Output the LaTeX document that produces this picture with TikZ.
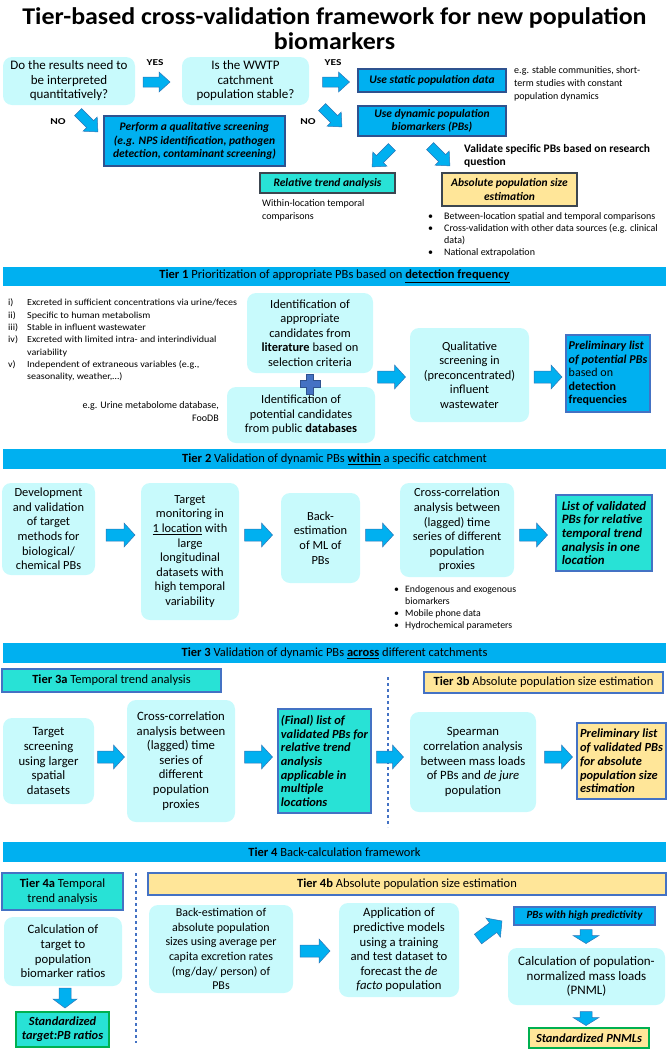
\documentclass[tikz,border=0pt]{standalone}
\usepackage{fontspec}
\setmainfont{Carlito}
\newfontfamily\stfont[FakeStretch=1.08]{Carlito}
\newfontfamily\lblfont[FakeStretch=1.27]{Carlito}
\newfontfamily\ttlfont[FakeStretch=1.08]{Carlito}
\usetikzlibrary{calc}
\definecolor{lcy}{RGB}{200,250,252}
\definecolor{pblue}{RGB}{0,176,240}
\definecolor{teal2}{RGB}{40,226,214}
\definecolor{yel}{RGB}{255,230,153}
\definecolor{bord}{RGB}{68,114,196}
\definecolor{dkb}{RGB}{47,82,143}
\definecolor{dkg}{RGB}{60,70,80}
\definecolor{grn}{RGB}{0,176,80}
\definecolor{arrd}{RGB}{46,117,182}
\newcommand\mybox[7]{%
  \pgfmathsetmacro\mbw{#5-#3}%
  \pgfmathsetmacro\mbh{#6-#4}%
  \pgfmathsetmacro\mbx{(#3+#5)/2}%
  \pgfmathsetmacro\mby{(#4+#6)/2}%
  \node[#2, minimum width=\mbw pt, minimum height=\mbh pt] (#1) at (\mbx,\mby) {#7};}
\tikzset{
 lbox/.style={rounded corners=9pt, fill=lcy, draw=none, align=center, inner sep=1pt, font=\fontsize{12.7}{14.6}\selectfont},
 lboxs/.style={lbox, font=\fontsize{12.4}{14.6}\selectfont},
 bbox/.style={fill=pblue, draw=dkb, line width=1.2pt, align=center, inner sep=1pt, font=\fontsize{11.5}{13.5}\selectfont\bfseries\itshape},
 tbox/.style={fill=teal2, draw=bord, line width=1.5pt, align=center, inner sep=1pt, font=\fontsize{12.4}{13.7}\selectfont\bfseries\itshape},
 ybox/.style={fill=yel, draw=bord, line width=1.5pt, align=center, inner sep=1pt, font=\fontsize{12.4}{13.7}\selectfont\bfseries\itshape},
 hdr/.style={font=\fontsize{12.5}{14.5}\selectfont},
 tbar/.style={fill=pblue, draw=none, align=center, inner sep=1pt, font=\fontsize{12.5}{14}\selectfont},
 note/.style={align=left, inner sep=0pt, font=\fontsize{10}{13}\selectfont},
 lbl/.style={inner sep=0pt, font=\lblfont\fontsize{9}{11}\selectfont\bfseries},
 arrst/.style={fill=pblue, draw=arrd, line width=0.5pt, line join=miter},
 dsh/.style={draw=bord, dashed, line width=1.3pt},
 pics/barr/.style n args={4}{code={\filldraw[arrst] ({-#1/2},-#2) -- ({#1/2-#4},-#2) -- ({#1/2-#4},-#3) -- ({#1/2},0) -- ({#1/2-#4},#3) -- ({#1/2-#4},#2) -- ({-#1/2},#2) -- cycle;}},
}
\begin{document}
\begin{tikzpicture}[x=1pt,y=-1pt]
\useasboundingbox (0,0) rectangle (669,1050);
% title
\node[font=\ttlfont\fontsize{24}{25}\selectfont\bfseries, align=center, inner sep=0pt] (title) at (334.5,29) {Tier-based cross-validation framework for new population\\biomarkers};
% ---- top decision part
\mybox{qa}{lbox,font=\fontsize{13}{14.5}\selectfont}{3}{57}{135}{105}{Do the results need to\\be interpreted\\quantitatively?}
\mybox{qb}{lbox,font=\fontsize{13}{14.5}\selectfont}{182}{57}{309}{105}{Is the WWTP\\catchment\\population stable?}
\mybox{stat}{bbox}{358}{69}{506}{92}{Use static population data}
\mybox{dyn}{bbox}{358}{106}{506}{136}{Use dynamic population\\biomarkers (PBs)}
\mybox{qual}{bbox}{104}{116}{285}{166}{Perform a qualitative screening\\(e.g. NPS identification, pathogen\\detection, contaminant screening)}
\mybox{rel}{tbox,draw=dkg,font=\fontsize{11.5}{13}\selectfont\bfseries\itshape}{260}{173}{395}{193}{Relative trend analysis}
\mybox{abs}{ybox,draw=dkg,font=\fontsize{11.5}{13.5}\selectfont\bfseries\itshape}{442}{173}{577}{206}{Absolute population size\\estimation}
\node[lbl] (yes1) at (155,63) {YES};
\node[lbl] (yes2) at (333,63) {YES};
\node[lbl] (no1) at (58,122) {NO};
\node[lbl] (no2) at (308,122) {NO};
\pic at (156.5,82) {barr={27}{5}{10}{11}};
\pic at (336,82) {barr={27}{5}{10}{11}};
\pic[rotate=-45] at (88,122) {barr={28}{5}{10}{11}};
\pic[rotate=-45] at (332,117) {barr={28}{5}{10}{11}};
\pic[rotate=-135] at (382,157) {barr={28}{5}{10}{11}};
\pic[rotate=-45] at (440,156) {barr={28}{5}{10}{11}};
\node[note, anchor=north west] (statnote) at (514,66) {e.g. stable communities, short-\\term studies with constant\\population dynamics};
\node[note, anchor=north west, font=\fontsize{11.5}{13}\selectfont\bfseries] (valq) at (464,144) {Validate specific PBs based on research\\question};
\node[note, anchor=north west] (relnote) at (262,199) {Within-location temporal\\comparisons};
\node[note, anchor=north west, font=\fontsize{10}{12}\selectfont] (absnote) at (428,211) {\begin{tabular}{@{}p{16pt}@{}l@{}}\textbullet & Between-location spatial and temporal comparisons\\ \textbullet & Cross-validation with other data sources (e.g. clinical\\ & data)\\ \textbullet & National extrapolation\end{tabular}};
% ---- Tier 1
\mybox{t1}{tbar}{3}{267}{666}{286}{\textbf{Tier 1} Prioritization of appropriate PBs based on \textbf{\underline{detection frequency}}}
\node[note, anchor=north west, font=\stfont\fontsize{9.3}{12.3}\selectfont] (crit) at (8,297) {\begin{tabular}{@{}p{14pt}@{\hspace{5pt}}l@{}}i) & Excreted in sufficient concentrations via urine/feces\\ ii) & Specific to human metabolism\\ iii) & Stable in influent wastewater\\ iv) & Excreted with limited intra- and interindividual\\ & variability\\ v) & Independent of extraneous variables (e.g.,\\ & seasonality, weather,\ldots)\end{tabular}};
\mybox{lit}{lboxs}{247}{293}{373}{373}{Identification of\\appropriate\\candidates from\\\textbf{literature} based on\\selection criteria}
\mybox{db}{lboxs}{227}{387}{375}{443}{Identification of\\potential candidates\\from public \textbf{databases}}
\filldraw[fill=bord, draw=dkb, line width=0.5pt] (306.5,374) -- (313.5,374) -- (313.5,380.5) -- (320,380.5) -- (320,387.5) -- (313.5,387.5) -- (313.5,394) -- (306.5,394) -- (306.5,387.5) -- (300,387.5) -- (300,380.5) -- (306.5,380.5) -- cycle;
\node[note, anchor=north east, align=right] (dbnote) at (219,401) {e.g. Urine metabolome database,\\FooDB};
\mybox{qs}{lboxs}{410}{328}{529}{422}{Qualitative\\screening in\\(preconcentrated)\\influent\\wastewater}
\mybox{pl1}{bbox,align=left,line width=1.5pt,draw=bord,font=\fontsize{12}{13.6}\selectfont}{566}{335}{650}{412}{\textbf{\textit{Preliminary list}}\\\textbf{\textit{of potential PBs}}\\based on\\\textbf{detection}\\\textbf{frequencies}}
\pic at (391.5,377) {barr={28}{6}{12}{11}};
\pic at (548,377) {barr={28}{6}{12}{11}};
% ---- Tier 2
\mybox{t2}{tbar}{3}{449}{666}{469}{\textbf{Tier 2} Validation of dynamic PBs \textbf{\underline{within}} a specific catchment}
\mybox{dev}{lboxs}{2}{483}{95}{575}{Development\\and validation\\of target\\methods for\\biological/\\chemical PBs}
\mybox{tm}{lboxs}{141}{483}{239}{620}{Target\\monitoring in\\\underline{1 location} with\\large\\longitudinal\\datasets with\\high temporal\\variability}
\mybox{be}{lboxs}{281}{493}{360}{583}{Back-\\estimation\\of ML of\\PBs}
\mybox{cc2}{lboxs}{400}{483}{514}{577}{Cross-correlation\\analysis between\\(lagged) time\\series of different\\population\\proxies}
\mybox{lv}{tbox,align=left,font=\fontsize{12.8}{13.7}\selectfont\bfseries\itshape}{556}{495}{652}{571}{List of validated\\PBs for relative\\temporal trend\\analysis in one\\location}
\pic at (120.5,535) {barr={29}{6}{12}{11}};
\pic at (258.5,535) {barr={28}{6}{12}{11}};
\pic at (379.5,535) {barr={28}{6}{12}{11}};
\pic at (533.5,535) {barr={28}{6}{12}{11}};
\node[note, anchor=north west, font=\fontsize{9.8}{12}\selectfont] (cc2note) at (394,584) {\begin{tabular}{@{}p{11pt}@{}l@{}}\textbullet & Endogenous and exogenous\\ & biomarkers\\ \textbullet & Mobile phone data\\ \textbullet & Hydrochemical parameters\end{tabular}};
% ---- Tier 3
\mybox{t3}{tbar}{3}{643}{666}{663}{\textbf{Tier 3} Validation of dynamic PBs \textbf{\underline{across}} different catchments}
\mybox{t3a}{tbox,hdr}{2}{669}{221}{692}{\textbf{Tier 3a} Temporal trend analysis}
\mybox{t3b}{ybox,hdr}{424}{672}{663}{693}{\textbf{Tier 3b} Absolute population size estimation}
\coordinate (d3top) at (388,677);
\coordinate (d3bot) at (388,827);
\draw[dsh] (d3top) -- (d3bot);
\mybox{ts}{lbox}{3}{718}{94}{804}{Target\\screening\\using larger\\spatial\\datasets}
\mybox{cc3}{lbox}{127}{700}{235}{822}{Cross-correlation\\analysis between\\(lagged) time\\series of\\different\\population\\proxies}
\mybox{fl}{tbox,align=left}{278}{709}{371}{813}{(Final) list of\\validated PBs for\\relative trend\\analysis\\applicable in\\multiple\\locations}
\mybox{sp}{lbox}{410}{712}{536}{812}{Spearman\\correlation analysis\\between mass loads\\of PBs and \textit{de jure}\\population}
\mybox{pl3}{ybox,align=left,line width=2pt}{577}{723}{666}{799}{Preliminary list\\of validated PBs\\for absolute\\population size\\estimation}
\pic at (111,757) {barr={27}{6}{12}{11}};
\pic at (258.5,757) {barr={28}{6}{12}{11}};
\pic at (390,757) {barr={27}{6}{12}{11}};
\pic at (558.5,757) {barr={28}{6}{12}{11}};
% ---- Tier 4
\mybox{t4}{tbar}{3}{842}{666}{862}{\textbf{Tier 4} Back-calculation framework}
\mybox{t4a}{tbox,hdr}{2}{873}{123}{910}{\textbf{Tier 4a} Temporal\\trend analysis}
\mybox{t4b}{ybox,hdr}{148}{873}{666}{895}{\textbf{Tier 4b} Absolute population size estimation}
\coordinate (d4top) at (136,873);
\coordinate (d4bot) at (136,1043);
\draw[dsh] (d4top) -- (d4bot);
\mybox{calc}{lbox}{4}{917}{122}{986}{Calculation of\\target to\\population\\biomarker ratios}
\pic[rotate=-90] at (65,998) {barr={20}{6}{12}{9}};
\mybox{std1}{tbox,draw=grn,line width=2pt}{16}{1012}{109}{1047}{Standardized\\target:PB ratios}
\mybox{bk}{lbox,font=\fontsize{12}{14.6}\selectfont}{149}{905}{293}{993}{Back-estimation of\\absolute population\\sizes using average per\\capita excretion rates\\(mg/day/ person) of\\PBs}
\pic at (315,951) {barr={30}{6}{12}{11}};
\mybox{app}{lbox}{339}{903}{459}{997}{Application of\\predictive models\\using a training\\and test dataset to\\forecast the \textit{de}\\\textit{facto} population}
\pic[rotate=37] at (490,930) {barr={30}{6}{12}{11}};
\mybox{hp}{bbox,draw=bord,line width=1.5pt,font=\fontsize{11}{12}\selectfont\bfseries\itshape}{514}{907}{655}{925}{PBs with high predictivity}
\pic[rotate=-90] at (586,936.5) {barr={14}{6}{13}{8}};
\mybox{pnml}{lbox,font=\fontsize{13}{14.6}\selectfont}{508}{948}{665}{1005}{Calculation of population-\\normalized mass loads\\(PNML)}
\pic[rotate=-90] at (586,1018.5) {barr={14}{6}{13}{8}};
\mybox{std2}{ybox,draw=grn,line width=2pt}{529}{1028}{649}{1048}{Standardized PNMLs}
\end{tikzpicture}
\end{document}
